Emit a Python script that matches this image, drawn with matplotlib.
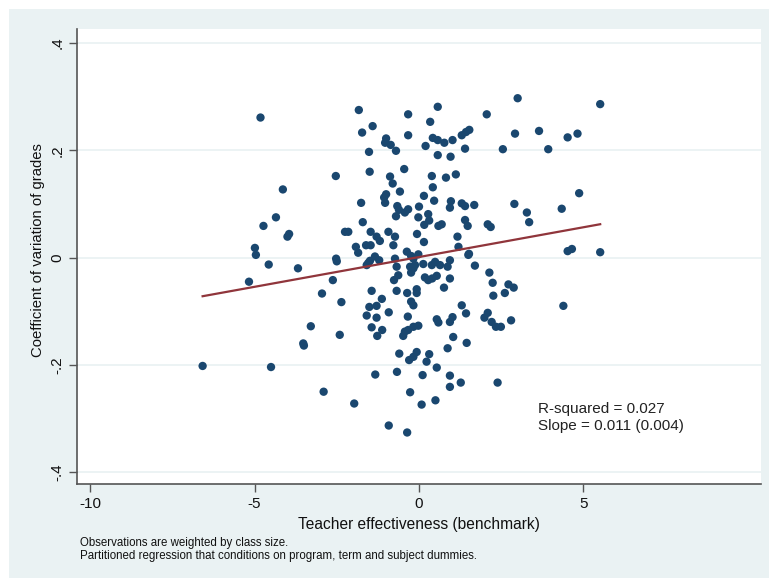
import matplotlib.pyplot as plt
import numpy as np
from matplotlib.patches import Rectangle

# teacher effectiveness (x) and coefficient of variation of grades (y)
teacher_eff = [
    -4.82, -4.14, -4.35, -4.73, -3.95, -4.00, -4.99, -4.96, -4.57, -3.68,
    -5.17, -3.29, -3.52, -3.50, -6.58, -4.50,
    -2.95, -2.90, -2.36, -2.41, -1.97, -0.92, -1.33, -0.67, -1.44, -1.13,
    -1.51, -1.29, -1.59, -1.29, -0.92, -1.44, -1.12, -1.27, -0.60, -2.62,
    -0.68, -2.50, -1.54, -1.59, -0.68, -0.63, -0.76, -1.83, -1.41, -1.73,
    -1.00, -1.03, -0.86, -0.70, -1.52, -2.53, -1.50, -0.88, -0.80, -0.58,
    -1.00, -1.06, -1.03, -1.76, -0.66, -0.70, -1.71, -2.25, -2.15, -1.47,
    -1.29, -1.19, -0.93, -0.73, -1.61, -1.47, -1.92, -1.85, -0.78, -2.52,
    -1.34, -1.21, -1.49, -0.73,
    0.57, -0.33, 0.34, -0.33, 1.30, 1.43, 1.53, 0.42, 0.57, 0.77,
    1.02, 0.20, 0.57, 0.96, 1.40, -0.45, 0.39, 0.82, 1.12, 0.42,
    0.15, 0.46, 0.97, 0.94, 1.30, 1.40, -0.61, -0.33, -0.43, 0.00,
    0.28, -0.02, 0.31, 0.16, 0.59, 0.69, 1.40, 1.48, -0.06, 0.15,
    1.17, 1.20, -0.37, -0.24, -0.17, -0.02, 0.49, 0.39, 0.64, 0.94,
    1.50, 0.13, 0.87, -0.27, -0.17, -0.24, -0.12, 0.18, 0.28, 0.40,
    0.54, 0.94, 0.76, -0.36, -0.07, -0.07, -0.24, -0.17, 1.30, 1.43,
    -0.34, 0.54, 0.59, 0.94, 1.02, -0.33, -0.43, -0.17, -0.02, -0.48,
    1.04, 1.45, 0.87, -0.07, -0.17, -0.30, 0.31, 0.23, 0.54, 0.11,
    0.94, 0.94, 1.27, -0.27, 0.50, 0.08, -0.36,
    3.00, 5.51, 2.06, 2.92, 3.65, 4.52, 4.82, 2.55, 3.93, 4.87,
    1.68, 2.90, 4.34, 3.28, 3.35, 2.09, 2.18, 1.52, 4.52, 4.65,
    5.51, 1.70, 2.14, 2.24, 2.72, 2.88, 2.26, 2.61, 1.99, 2.09,
    2.21, 2.34, 2.49, 2.80, 4.39, 2.39,
]
cv_grades = [
    0.261, 0.127, 0.075, 0.059, 0.044, 0.039, 0.018, 0.005, -0.013, -0.020,
    -0.045, -0.128, -0.160, -0.164, -0.202, -0.204,
    -0.067, -0.250, -0.083, -0.144, -0.272, -0.313, -0.218, -0.213, -0.062, -0.077,
    -0.092, -0.090, -0.108, -0.112, -0.102, -0.130, -0.135, -0.146, -0.179, -0.042,
    -0.062, -0.007, -0.010, -0.014, -0.017, -0.033, -0.042, 0.275, 0.245, 0.233,
    0.222, 0.214, 0.210, 0.199, 0.197, 0.152, 0.160, 0.151, 0.138, 0.123,
    0.118, 0.112, 0.102, 0.102, 0.096, 0.077, 0.066, 0.048, 0.048, 0.048,
    0.039, 0.031, 0.048, 0.039, 0.023, 0.023, 0.020, 0.009, 0.023, -0.002,
    0.002, -0.005, -0.006, -0.002,
    0.281, 0.267, 0.253, 0.228, 0.228, 0.234, 0.238, 0.223, 0.219, 0.214,
    0.219, 0.208, 0.191, 0.188, 0.203, 0.165, 0.152, 0.149, 0.155, 0.131,
    0.115, 0.106, 0.105, 0.093, 0.101, 0.096, 0.089, 0.090, 0.084, 0.095,
    0.081, 0.075, 0.069, 0.061, 0.059, 0.062, 0.070, 0.059, 0.044, 0.029,
    0.039, 0.020, 0.011, 0.003, -0.002, 0.006, -0.008, -0.014, -0.014, -0.005,
    0.005, -0.012, -0.017, -0.017, -0.020, -0.028, -0.014, -0.037, -0.042, -0.039,
    -0.034, -0.039, -0.056, -0.066, -0.059, -0.066, -0.082, -0.089, -0.089, -0.104,
    -0.110, -0.115, -0.121, -0.120, -0.111, -0.135, -0.138, -0.129, -0.127, -0.146,
    -0.148, -0.159, -0.169, -0.176, -0.185, -0.191, -0.180, -0.194, -0.205, -0.219,
    -0.220, -0.241, -0.233, -0.251, -0.266, -0.274, -0.326,
    0.297, 0.286, 0.267, 0.231, 0.236, 0.224, 0.231, 0.202, 0.202, 0.120,
    0.098, 0.100, 0.091, 0.084, 0.066, 0.062, 0.057, 0.007, 0.012, 0.016,
    0.010, -0.015, -0.028, -0.047, -0.050, -0.056, -0.071, -0.066, -0.112, -0.103,
    -0.120, -0.129, -0.129, -0.117, -0.090, -0.233,
]

# fitted line (partitioned regression)
slope = 0.0111
intercept = 0.001
r2_text = 'R-squared = 0.027'
slope_text = 'Slope = 0.011 (0.004)'

xticks = [-10, -5, 0, 5]
yticks = [-0.4, -0.2, 0, 0.2, 0.4]
ytick_labels = ['-.4', '-.2', '0', '.2', '.4']

plt.rcParams['font.family'] = ['Liberation Sans', 'DejaVu Sans']

bg = '#EAF2F3'
navy = '#1A476F'
maroon = '#90353B'

fig = plt.figure(figsize=(7.69, 5.78), dpi=100, facecolor='white')
fig.patches.append(Rectangle((9/769, 0), 1 - 9/769, 1 - 9/578, transform=fig.transFigure,
                             facecolor=bg, edgecolor='none', zorder=-5))
ax = fig.add_axes([77/769, 1 - 484/578, (761 - 77)/769, (484 - 29)/578])
ax.set_zorder(2)
ax.set_facecolor('white')

for yt in yticks:
    ax.axhline(yt, color=bg, lw=1.3, zorder=1)

x = np.array(teacher_eff)
y = np.array(cv_grades)
ax.scatter(x, y, s=36, color=navy, edgecolors='none', zorder=3)

xl = np.array([x.min(), x.max()])
ax.plot(xl, intercept + slope * xl, color=maroon, lw=1.6, zorder=4)

ax.text(3.62, -0.282, r2_text, fontsize=11, va='center', ha='left', color='#222222')
ax.text(3.62, -0.314, slope_text, fontsize=11, va='center', ha='left', color='#222222')

ax.set_xlim(-10.4, 10.4)
ax.set_ylim(-0.422, 0.426)
ax.set_xticks(xticks)
ax.set_xticklabels([str(t) for t in xticks])
ax.set_yticks(yticks)
ax.set_yticklabels(ytick_labels, rotation=90, va='center')
ax.tick_params(axis='both', direction='out', length=6, width=1, color='#555555',
               labelsize=11, labelcolor='#111111')
ax.tick_params(axis='y', pad=3)

for s in ['top', 'right']:
    ax.spines[s].set_visible(False)
for s in ['left', 'bottom']:
    ax.spines[s].set_color('#555555')
    ax.spines[s].set_linewidth(1.2)

ax.set_xlabel('Teacher effectiveness (benchmark)', fontsize=11.2, color='#111111', labelpad=4)
ax.set_ylabel('Coefficient of variation of grades', fontsize=10.7, color='#111111')
ax.yaxis.set_label_coords(-0.047, 0.515)

fig.text(80/769, 1 - 543/578, 'Observations are weighted by class size.', fontsize=8.3,
         va='center', ha='left', color='#111111')
fig.text(80/769, 1 - 556/578, 'Partitioned regression that conditions on program, term and subject dummies.',
         fontsize=8.3, va='center', ha='left', color='#111111')

fig.savefig('out.png', dpi=100, facecolor='white')
